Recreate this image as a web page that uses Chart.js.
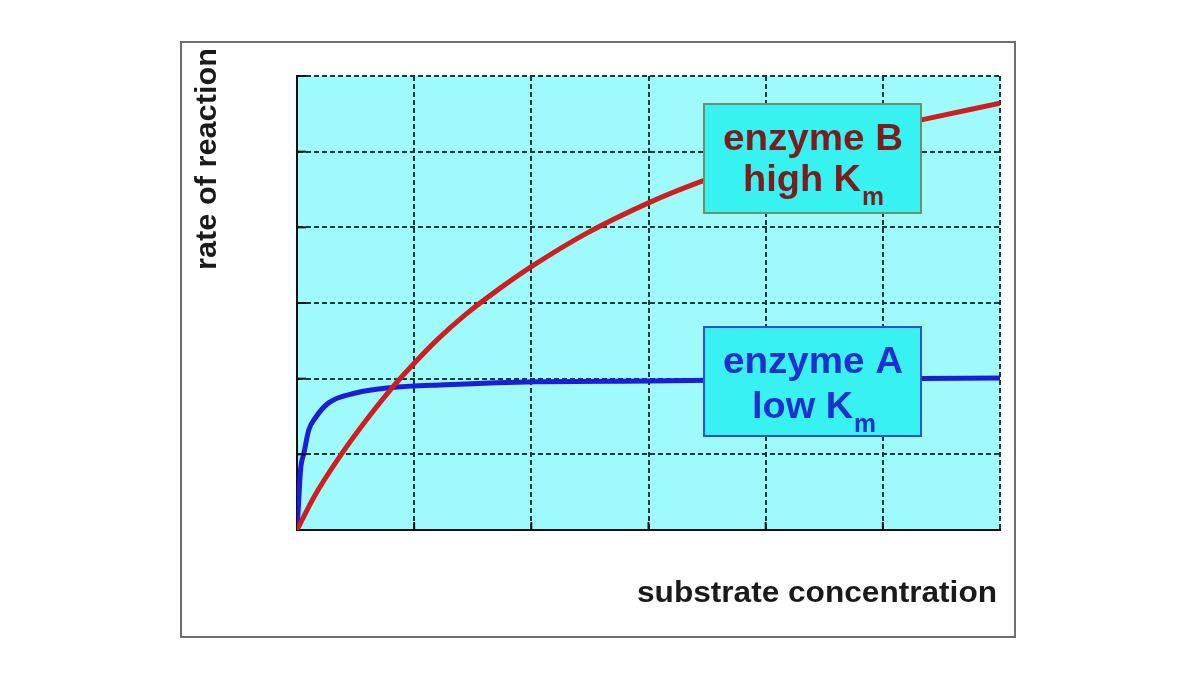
<!DOCTYPE html>
<html>
<head>
<meta charset="utf-8">
<script src="https://cdn.jsdelivr.net/npm/chart.js@4/dist/chart.umd.min.js"></script>
<style>
  html, body { margin: 0; padding: 0; background: #fff; }
  #wrap { width: 1200px; height: 675px; }
</style>
</head>
<body>
<div id="wrap"><canvas id="chart" width="1200" height="675"></canvas></div>
<script>
// ===================================
// DATA
// ===================================

const gridTicks = [0, 1, 2, 3, 4, 5, 6];

// enzyme B - high Km (red)
const enzymeBx = [0, 0.15, 0.36, 0.59, 0.79, 0.98, 1.20, 1.44, 1.72, 2.01, 2.47, 3.01, 3.44, 4.0, 4.5, 5.0, 5.33, 6.0];
const enzymeBy = [0, 0.45, 0.96, 1.45, 1.84, 2.17, 2.52, 2.85, 3.18, 3.49, 3.92, 4.33, 4.60, 4.90, 5.12, 5.31, 5.42, 5.64];

// enzyme A - low Km (blue)
const enzymeAx = [0, 0.015, 0.03, 0.06, 0.10, 0.16, 0.27, 0.50, 0.79, 1.27, 2.04, 3.02, 4.0, 5.0, 6.0];
const enzymeAy = [0, 0.40, 0.79, 1.02, 1.32, 1.49, 1.68, 1.81, 1.88, 1.92, 1.96, 1.97, 1.99, 2.0, 2.01];

const toPoints = (xs, ys) => xs.map((x, i) => ({ x: x, y: ys[i] }));

const FONT = '"Liberation Sans", Arial, sans-serif';

// ===================================
// HELPERS
// ===================================

// draw text squeezed/stretched to a given width
function fitText(ctx, text, x, y, width, size, color, align) {
    ctx.save();
    ctx.font = 'bold ' + size + 'px ' + FONT;
    ctx.fillStyle = color;
    ctx.textBaseline = 'alphabetic';
    ctx.textAlign = 'left';
    const w = ctx.measureText(text).width;
    let ox = 0;
    if (align === 'center') ox = -w / 2;
    if (align === 'right') ox = -w;
    ctx.translate(x, y);
    ctx.scale(width / w, 1);
    ctx.fillText(text, ox, 0);
    ctx.restore();
}

function labelBox(ctx, box, color, border, line1, line2) {
    ctx.save();
    ctx.fillStyle = '#38f2f2';
    ctx.fillRect(box.x, box.y, box.w, box.h);
    ctx.lineWidth = 2;
    ctx.strokeStyle = border;
    ctx.strokeRect(box.x, box.y, box.w, box.h);
    ctx.restore();
    fitText(ctx, line1.text, line1.x, line1.y, line1.w, 36, color, 'left');
    fitText(ctx, line2.text, line2.x, line2.y, line2.w, 36, color, 'left');
    fitText(ctx, 'm', line2.x + line2.w + 1, line2.y + 14, 22, 26, color, 'left');
}

// ===================================
// PLUGIN: frame, plot background, inside ticks, labels
// ===================================

const decorPlugin = {
    id: 'decor',
    beforeDraw(chart) {
        const ctx = chart.ctx;
        const a = chart.chartArea;
        ctx.save();
        ctx.fillStyle = '#ffffff';
        ctx.fillRect(0, 0, chart.width, chart.height);
        ctx.strokeStyle = '#6e6e6e';
        ctx.lineWidth = 2;
        ctx.strokeRect(181, 42, 834, 595);
        ctx.fillStyle = '#9ffbfb';
        ctx.fillRect(a.left, a.top, a.right - a.left, a.bottom - a.top);
        ctx.restore();
    },
    afterDatasetsDraw(chart) {
        const ctx = chart.ctx;
        const a = chart.chartArea;
        const xs = chart.scales.x;
        const ys = chart.scales.y;

        // short solid ticks pointing into the plot
        ctx.save();
        ctx.strokeStyle = '#111';
        ctx.lineWidth = 2;
        gridTicks.slice(1, -1).forEach(v => {
            const px = xs.getPixelForValue(v);
            ctx.beginPath();
            ctx.moveTo(px, a.bottom);
            ctx.lineTo(px, a.bottom - 8);
            ctx.stroke();
        });
        gridTicks.slice(1).forEach(v => {
            const py = ys.getPixelForValue(v);
            ctx.beginPath();
            ctx.moveTo(a.left, py);
            ctx.lineTo(a.left + 9, py);
            ctx.stroke();
        });
        ctx.restore();

        labelBox(ctx, { x: 704, y: 104, w: 217, h: 109 }, '#7c1c1c', '#6f8f6a',
            { text: 'enzyme B', x: 723, y: 150, w: 180 },
            { text: 'high K', x: 743, y: 191, w: 118 });
        labelBox(ctx, { x: 704, y: 327, w: 217, h: 109 }, '#1f2fd0', '#2f4fe0',
            { text: 'enzyme A', x: 723, y: 373, w: 180 },
            { text: 'low K', x: 752, y: 418, w: 101 });
    },
    afterDraw(chart) {
        const ctx = chart.ctx;
        // axis titles
        fitText(ctx, 'substrate concentration', 997, 602, 360, 30, '#1a1a1a', 'right');
        ctx.save();
        ctx.translate(216, 48);
        ctx.rotate(-Math.PI / 2);
        fitText(ctx, 'rate of reaction', 0, 0, 222, 29, '#1a1a1a', 'right');
        ctx.restore();
    }
};

// ===================================
// CHART
// ===================================

const gridStyle = {
    color: '#123a3a',
    lineWidth: 2,
    drawTicks: false
};

function buildChart() {
    new Chart(document.getElementById('chart'), {
        type: 'scatter',
        data: {
            datasets: [
                {
                    label: 'enzyme B high Km',
                    data: toPoints(enzymeBx, enzymeBy),
                    showLine: true,
                    borderColor: '#d01e1e',
                    borderWidth: 5,
                    pointRadius: 0,
                    cubicInterpolationMode: 'monotone',
                    order: 1
                },
                {
                    label: 'enzyme A low Km',
                    data: toPoints(enzymeAx, enzymeAy),
                    showLine: true,
                    borderColor: '#1c1cdc',
                    borderWidth: 5,
                    pointRadius: 0,
                    cubicInterpolationMode: 'monotone',
                    order: 2
                }
            ]
        },
        options: {
            responsive: false,
            animation: false,
            layout: { padding: { left: 297, top: 76, right: 200, bottom: 145 } },
            plugins: {
                legend: { display: false },
                tooltip: { enabled: false }
            },
            scales: {
                x: {
                    type: 'linear',
                    min: 0,
                    max: 6,
                    ticks: { display: false, stepSize: 1 },
                    grid: gridStyle,
                    border: { display: true, color: '#111', width: 2, dash: [5, 3] }
                },
                y: {
                    type: 'linear',
                    min: 0,
                    max: 6,
                    ticks: { display: false, stepSize: 1 },
                    grid: gridStyle,
                    border: { display: true, color: '#111', width: 2, dash: [5, 3] }
                }
            }
        },
        plugins: [decorPlugin]
    });
}

document.fonts.load('bold 30px "Liberation Sans"').then(buildChart, buildChart);
</script>
</body>
</html>
